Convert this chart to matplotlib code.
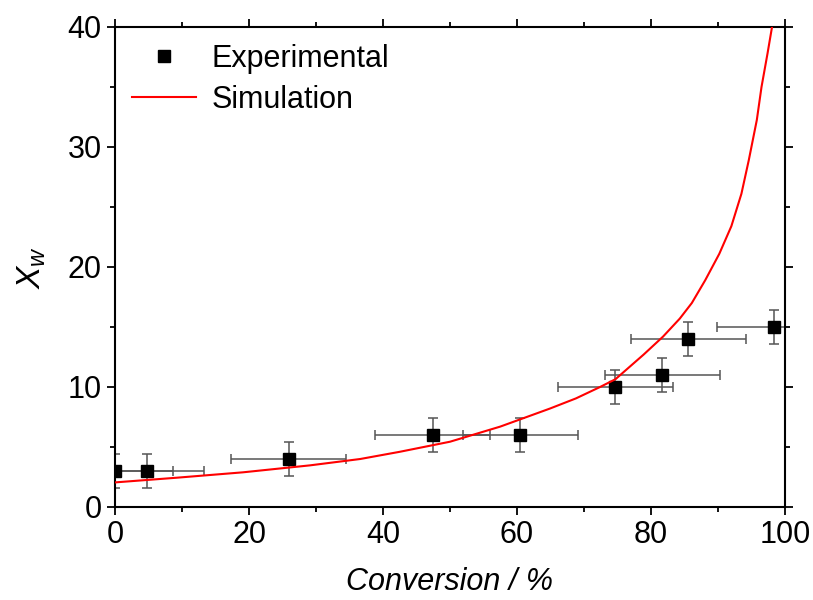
import matplotlib
matplotlib.use('Agg')
import matplotlib.pyplot as plt
from matplotlib.ticker import MultipleLocator

plt.rcParams['font.family'] = 'Liberation Sans'
plt.rcParams['mathtext.fontset'] = 'custom'
plt.rcParams['mathtext.it'] = 'Liberation Sans:italic'
plt.rcParams['mathtext.rm'] = 'Liberation Sans'

# experimental points (conversion %, Xw) with error bars
exp_x = [0, 4.7, 25.9, 47.4, 60.5, 74.7, 81.7, 85.6, 98.4]
exp_y = [3, 3, 4, 6, 6, 10, 11, 14, 15]
exp_xerr = [8.6, 8.6, 8.6, 8.6, 8.6, 8.6, 8.6, 8.6, 8.6]
exp_yerr = [1.4, 1.4, 1.4, 1.4, 1.4, 1.4, 1.4, 1.4, 1.4]

# simulation curve
sim_x = [0, 9.2, 19.1, 29.1, 36.6, 42.5, 50, 57.5, 64.9, 68.8, 72.4, 74.7,
         78.9, 81.8, 84.3, 86.1, 88.1, 90.2, 92.0, 93.5, 94.6, 95.8, 96.5,
         97.4, 98.1, 98.3]
sim_y = [2.05, 2.44, 2.89, 3.47, 4.0, 4.6, 5.44, 6.7, 8.2, 9.05, 10.0, 10.65,
         12.7, 14.2, 15.7, 17.0, 18.9, 21.1, 23.4, 26.1, 28.9, 32.25, 35.0,
         37.8, 40.1, 41.0]

fig = plt.figure(figsize=(8.13, 6.0), dpi=100)
ax = fig.add_axes([0.1415, 0.155, 0.824, 0.80])

ax.errorbar(exp_x, exp_y, xerr=exp_xerr, yerr=exp_yerr, fmt='none',
            ecolor='#555555', elinewidth=1.1, capsize=3.5, capthick=1.1, zorder=2)
ax.plot(exp_x, exp_y, 's', color='black', markersize=8.5, label='Experimental', zorder=3)
ax.plot(sim_x, sim_y, '-', color='red', linewidth=1.5, label='Simulation', zorder=4)

ax.set_xlim(0, 100)
ax.set_ylim(0, 40)
ax.xaxis.set_major_locator(MultipleLocator(20))
ax.xaxis.set_minor_locator(MultipleLocator(10))
ax.yaxis.set_major_locator(MultipleLocator(10))
ax.yaxis.set_minor_locator(MultipleLocator(5))
ax.tick_params(which='both', direction='out', top=True, right=True, width=1.3,
               labelsize=22)
ax.tick_params(which='major', length=6)
ax.tick_params(which='minor', length=3.5)
for s in ax.spines.values():
    s.set_linewidth(1.5)

ax.set_xlabel('Conversion / %', fontsize=22, style='italic', labelpad=12)
ax.set_ylabel(r'$\mathit{X}_{w}$', fontsize=24, labelpad=14)

ax.legend(loc='upper left', frameon=False, fontsize=22, handlelength=2.1,
          borderaxespad=0.25, borderpad=0.3, handletextpad=0.5,
          labelspacing=0.35)

fig.savefig('out.png', dpi=100)
